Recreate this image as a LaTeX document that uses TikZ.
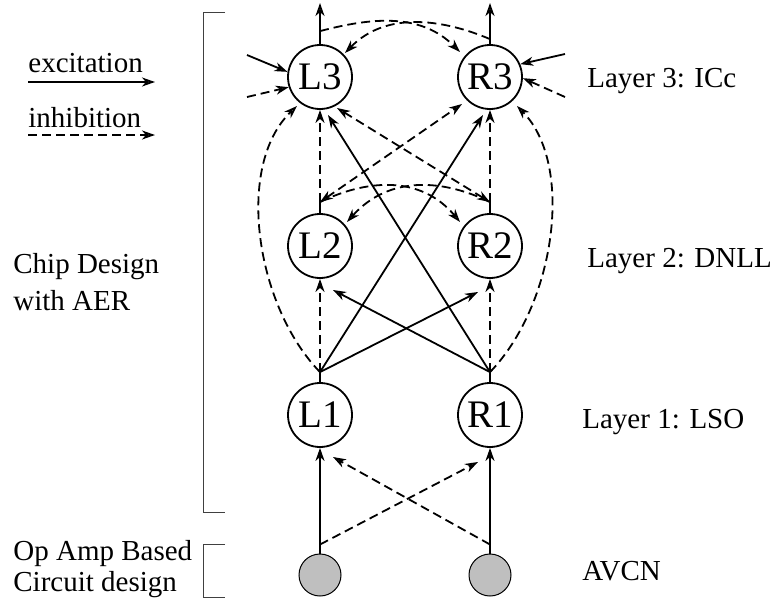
\documentclass[tikz,border=0pt]{standalone}
\usepackage{fontspec}
\setmainfont{Liberation Serif}
\usetikzlibrary{calc,arrows.meta}
\tikzset{
  neuron/.style={circle,draw,line width=0.9pt,minimum size=32pt,inner sep=0pt,font=\fontsize{19.5}{21}\selectfont},
  source/.style={circle,draw,line width=0.5pt,fill=black!25,minimum size=21pt,inner sep=0pt},
  lbl/.style={anchor=base west,inner sep=0pt,font=\fontsize{14.5}{17}\selectfont},
  exc/.style={line width=0.9pt,->},
  inh/.style={line width=0.9pt,->,dash pattern=on 4.5pt off 2.5pt},
  bracket/.style={line width=0.5pt,black!75},
  >={Stealth[open,length=6.5pt,width=4.5pt,inset=2pt]}
}

\begin{document}
\begin{tikzpicture}[x=0.5pt,y=-0.5pt]
    \useasboundingbox (0,0) rectangle (772,600);

    % neurons and AVCN sources
    \node [neuron] (L3) at (320,77) {L3};
    \node [neuron] (R3) at (490,77) {R3};
    \node [neuron] (L2) at (320,246) {L2};
    \node [neuron] (R2) at (490,246) {R2};
    \node [neuron] (L1) at (320,415) {L1};
    \node [neuron] (R1) at (490,415) {R1};
    \node [source] (AL) at (320,575) {};
    \node [source] (AR) at (490,575) {};

    % output points above each cell
    \coordinate (L3o) at ([yshift=6.5pt]L3.north);
    \coordinate (R3o) at ([yshift=2.5pt]R3.north);
    \coordinate (L2o) at ([yshift=5.5pt]L2.north);
    \coordinate (R2o) at ([yshift=5.5pt]R2.north);
    \coordinate (L1o) at ([yshift=5pt]L1.north);
    \coordinate (R1o) at ([yshift=5pt]R1.north);
    \coordinate (ALo) at ([yshift=4.5pt]AL.north);
    \coordinate (ARo) at ([yshift=4.5pt]AR.north);
    \coordinate (L3up) at (320,3);
    \coordinate (R3up) at (490,3);
    \coordinate (inLa) at (247,55);
    \coordinate (inLb) at (247,97);
    \coordinate (inRa) at (565,54);
    \coordinate (inRb) at (565,97);

    % AVCN -> layer 1
    \draw [exc] (AL.north) -- (L1.south);
    \draw [exc] (AR.north) -- (R1.south);
    \draw [inh] (ALo) -- ($(R1)+(-12,47)$);
    \draw [inh] (ARo) -- ($(L1)+(13,42)$);

    % layer 1 -> layers 2 and 3
    \draw [line width=0.9pt] (L1.north) -- (L1o);
    \draw [line width=0.9pt] (R1.north) -- (R1o);
    \draw [inh] (L1o) -- (L2.south);
    \draw [inh] (R1o) -- (R2.south);
    \draw [exc] (L1o) -- ($(R2)+(-12,46)$);
    \draw [exc] (R1o) -- ($(L2)+(13,44)$);
    \draw [exc] (L1o) -- ($(R3)+(-7,38)$);
    \draw [exc] (R1o) -- ($(L3)+(8,38)$);
    \draw [inh] (L1o) .. controls (255,305) and (235,165) .. ($(L3)+(-23,29)$);
    \draw [inh] (R1o) .. controls (555,305) and (575,165) .. ($(R3)+(27,29)$);

    % layer 2 -> layer 3, and across
    \draw [line width=0.9pt] (L2.north) -- (L2o);
    \draw [line width=0.9pt] (R2.north) -- (R2o);
    \draw [inh] (L2o) -- (L3.south);
    \draw [inh] (R2o) -- (R3.south);
    \draw [inh,<->] (L2o) -- ($(R3)+(-28,27)$);
    \draw [inh,<->] (R2o) -- ($(L3)+(17,31)$);
    \draw [inh] (L2o) .. controls (365,180) and (420,174) .. ($(R2)+(-30,-24)$);
    \draw [inh] (R2o) .. controls (445,180) and (390,174) .. ($(L2)+(27,-24)$);

    % layer 3
    \draw [exc] (L3.north) -- (L3up);
    \draw [exc] (R3.north) -- (R3up);
    \draw [inh] (L3o) .. controls (370,18) and (420,12) .. ($(R3)+(-30,-25)$);
    \draw [inh] (R3o) .. controls (440,18) and (385,12) .. ($(L3)+(25,-24)$);
    \draw [exc] (inLa) -- (L3.171);
    \draw [inh] (inLb) -- (L3.198);
    \draw [exc] (inRa) -- (R3.23);
    \draw [inh] (inRb) -- (R3.358);

    % legend
    \node [lbl] (excT) at (28,72) {excitation};
    \node [lbl] (inhT) at (28,127) {inhibition};
    \coordinate (excA) at (28,82);
    \coordinate (excB) at (155,82);
    \coordinate (inhA) at (28,135);
    \coordinate (inhB) at (155,135);
    \draw [exc] (excA) -- (excB);
    \draw [inh] (inhA) -- (inhB);

    % left brackets and labels
    \draw [bracket] (225,12) -- (203,12) -- (203,512) -- (225,512);
    \draw [bracket] (225,544) -- (203,544) -- (203,597) -- (225,597);
    \node [lbl] (chipA) at (13,273) {Chip Design};
    \node [lbl] (chipB) at (13,310) {with AER};
    \node [lbl] (opA) at (13,560) {Op Amp Based};
    \node [lbl] (opB) at (13,591) {Circuit design};

    % layer names
    \node [lbl] (lay3) at (587,87) {Layer 3: ICc};
    \node [lbl] (lay2) at (587,267) {Layer 2: DNLL};
    \node [lbl] (lay1) at (582,428) {Layer 1: LSO};
    \node [lbl] (avcn) at (582,580) {AVCN};
\end{tikzpicture}
\end{document}
